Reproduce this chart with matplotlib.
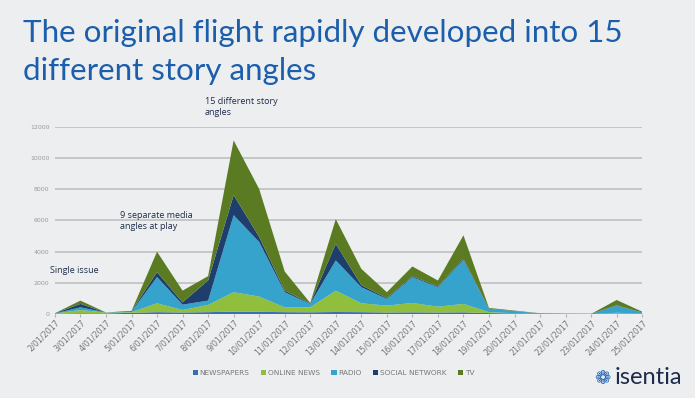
import numpy as np
import matplotlib
matplotlib.use("Agg")
import matplotlib.pyplot as plt

days = ["2/01/2017", "3/01/2017", "4/01/2017", "5/01/2017", "6/01/2017", "7/01/2017",
        "8/01/2017", "9/01/2017", "10/01/2017", "11/01/2017", "12/01/2017", "13/01/2017",
        "14/01/2017", "15/01/2017", "16/01/2017", "17/01/2017", "18/01/2017", "19/01/2017",
        "20/01/2017", "21/01/2017", "22/01/2017", "23/01/2017", "24/01/2017", "25/01/2017"]

# per-series values (stacked in this order)
newspapers = [10, 40, 30, 80, 120, 100, 120, 150, 140, 120, 110, 130,
              120, 100, 110, 100, 110, 60, 30, 10, 0, 0, 20, 10]
online_news = [20, 220, 60, 40, 570, 160, 460, 1250, 980, 310, 320, 1370,
               570, 440, 600, 370, 540, 60, 20, 10, 0, 0, 60, 20]
radio = [10, 170, 10, 30, 1680, 340, 280, 4940, 3500, 970, 220, 1940,
         1030, 430, 1660, 1250, 2830, 200, 130, 20, 10, 5, 460, 70]
social_network = [5, 220, 0, 40, 320, 150, 1290, 1290, 330, 100, 40, 1060,
                  130, 60, 60, 50, 70, 20, 10, 0, 0, 0, 20, 0]
tv = [5, 210, 0, 10, 1310, 750, 280, 3510, 3070, 1230, 20, 1590,
      1050, 370, 620, 380, 1500, 50, 30, 10, 5, 0, 340, 50]

series_names = ["NEWSPAPERS", "ONLINE NEWS", "RADIO", "SOCIAL NETWORK", "TV"]
series_colors = ["#3a6db3", "#8fbf3c", "#35a3cc", "#1e3f6e", "#5b7b22"]

bg = "#eceef0"
fig = plt.figure(figsize=(6.95, 3.98), dpi=100, facecolor=bg)

fig.text(0.033, 0.895, "The original flight rapidly developed into 15",
         fontsize=22.6, color="#1b5eab", family="Lato", va="baseline")
fig.text(0.033, 0.80, "different story angles",
         fontsize=22.6, color="#1b5eab", family="Lato", va="baseline")

ax = fig.add_axes([0.079, 0.211, 0.845, 0.470])
ax.set_facecolor(bg)

x = np.arange(len(days))
ax.stackplot(x, newspapers, online_news, radio, social_network, tv,
             colors=series_colors, labels=series_names, linewidth=0)

ax.set_ylim(0, 12000)
ax.set_xlim(0, len(days) - 1)
ax.set_yticks(np.arange(0, 12001, 2000))
ax.yaxis.grid(True, color="#c4c6c8", linewidth=1.4)
ax.set_axisbelow(True)
for s in ax.spines.values():
    s.set_visible(False)
ax.tick_params(axis="y", length=0, labelsize=4.5, labelcolor="#9a9a9a", pad=4)
ax.tick_params(axis="x", length=2, color="#b0b0b0", labelsize=5.8,
               labelcolor="#777777", pad=1)
ax.set_xticks(x)
ax.set_xticklabels(days, rotation=45, ha="right", rotation_mode="anchor")

note_kw = dict(fontsize=6.5, color="#1f2d4a", family="Open Sans", linespacing=1.3)
fig.text(0.295, 0.705, "15 different story\nangles", va="bottom", **note_kw)
fig.text(0.172, 0.42, "9 separate media\nangles at play", va="bottom", **note_kw)
fig.text(0.072, 0.31, "Single issue", va="bottom", **note_kw)

leg = fig.legend(*ax.get_legend_handles_labels(), loc="center",
                 bbox_to_anchor=(0.48, 0.063), ncol=5, frameon=False,
                 fontsize=5.3, handlelength=0.7, handleheight=0.7,
                 handletextpad=0.2, columnspacing=1.6)
for t in leg.get_texts():
    t.set_color("#777777")

fig.text(0.855, 0.035, "\u2741", fontsize=14, color="#1f5fb0", family="DejaVu Sans",
         va="baseline", ha="left")
fig.text(0.885, 0.035, "isentia", fontsize=17, color="#1e2b4d", family="Lato",
         va="baseline", ha="left")

plt.savefig("out.png", dpi=100, facecolor=bg)
plt.close()
